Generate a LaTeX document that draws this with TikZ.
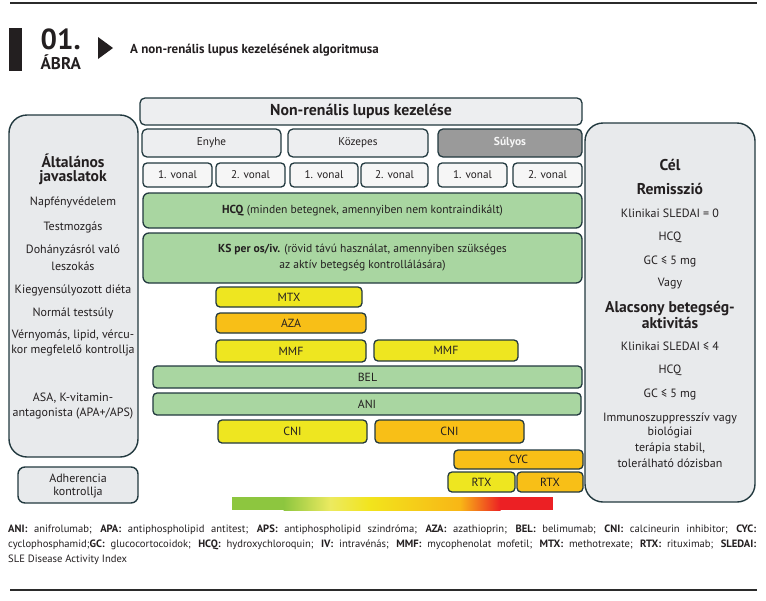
\documentclass[tikz,border=0pt]{standalone}
\usepackage{fontspec}
\setmainfont{PT Sans}
\definecolor{txt}{HTML}{231F20}
\definecolor{bd}{HTML}{22393F}
\definecolor{panel}{HTML}{E8EAEC}
\definecolor{lgrey}{HTML}{EDEEF0}
\definecolor{vgrey}{HTML}{F6F6F6}
\definecolor{dgrey}{HTML}{9A9A9A}
\definecolor{gr}{HTML}{A9D6A1}
\definecolor{ye}{HTML}{EEE620}
\definecolor{orr}{HTML}{F8BF17}
\definecolor{rule}{HTML}{2B2B2B}
\newcommand\bxx[7]{\node[bx,#2,minimum width={(#5-#3)*1pt},minimum height={(#6-#4)*1pt}] (#1) at ({(#3+#5)/2},{(#4+#6)/2}) {#7};}
\begin{document}
\begin{tikzpicture}[x=1pt,y=-1pt,
  every node/.style={inner sep=0pt,text=txt},
  bx/.style={draw=bd,line width=1.3pt,rounded corners=4pt,font=\fontsize{11.8}{14}\selectfont},
  sev/.style={fill=lgrey,rounded corners=5pt,font=\fontsize{11.2}{13}\selectfont},
  von/.style={fill=vgrey,font=\fontsize{11.2}{13}\selectfont},
  grn/.style={fill=gr},
  yel/.style={fill=ye},
  org/.style={fill=orr},
  pnl/.style={draw=bd,line width=1.4pt,fill=panel,rounded corners=18pt},
  ptxt/.style={font=\fontsize{12}{14}\selectfont},
  phead/.style={font=\bfseries\fontsize{15.6}{14.5}\selectfont},
]
\useasboundingbox[fill=white] (0,0) rectangle (766,600);
% header
\draw[line width=1.6pt,rule] (10,3) -- (757,3);
\draw[line width=1.6pt,rule] (10,590) -- (757,590);
\fill[txt] (9,28) rectangle (22,71);
\node[align=left,anchor=south west,font=\bfseries\fontsize{17}{20}\selectfont] (num) at (40.5,70) {{\fontsize{29}{29}\selectfont 01.}\\ÁBRA};
\fill[txt] (98,37) -- (113,48) -- (98,59) -- cycle;
\node[font=\bfseries\fontsize{13}{15}\selectfont,anchor=base west] (ttl) at (130,53) {A non-renális lupus kezelésének algoritmusa};
% panels
\node[pnl,minimum width=129pt,minimum height=342pt] (left) at (73.5,286) {};
\node[pnl,minimum width=170pt,minimum height=379pt] (right) at (670,312.5) {};
\bxx{adh}{fill=panel,rounded corners=7pt,line width=1.4pt}{18}{467}{138}{503}{}
% left panel texts
\node[phead,align=center] (l1) at (73,169.5) {Általános\\javaslatok};
\node[ptxt] (l3) at (73,202) {Napfényvédelem};
\node[ptxt] (l4) at (73,227) {Testmozgás};
\node[ptxt] (l5) at (73,250) {Dohányzásról való};
\node[ptxt] (l6) at (73,266) {leszokás};
\node[ptxt] (l7) at (73,290) {Kiegyensúlyozott diéta};
\node[ptxt] (l8) at (73,313) {Normál testsúly};
\node[ptxt] (l9) at (73,335) {Vérnyomás, lipid, vércu-};
\node[ptxt] (l10) at (73,351) {kor megfelelő kontrollja};
\node[ptxt] (l11) at (73,398) {ASA, K-vitamin-};
\node[ptxt] (l12) at (73,414) {antagonista (APA+/APS)};
\node[ptxt] (a1) at (78,478) {Adherencia};
\node[ptxt] (a2) at (78,493) {kontrollja};
% right panel texts
\node[phead] (r1) at (670,165) {Cél};
\node[phead] (r2) at (670,189) {Remisszió};
\node[ptxt] (r3) at (670,213) {Klinikai SLEDAI = 0};
\node[ptxt] (r4) at (670,237) {HCQ};
\node[ptxt] (r5) at (670,261) {GC ≤ 5 mg};
\node[ptxt] (r6) at (670,284) {Vagy};
\node[phead] (r7) at (670,308.5) {Alacsony betegség-};
\node[phead] (r8) at (670,323) {aktivitás};
\node[ptxt] (r9) at (670,346) {Klinikai SLEDAI ≤ 4};
\node[ptxt] (r10) at (670,370) {HCQ};
\node[ptxt] (r11) at (670,394) {GC ≤ 5 mg};
\node[ptxt] (r12) at (670,418) {Immunoszuppresszív vagy};
\node[ptxt] (r13) at (670,432.5) {biológiai};
\node[ptxt] (r14) at (670,448) {terápia stabil,};
\node[ptxt] (r15) at (670,463) {tolerálható dózisban};
% main column
\bxx{main}{sev,font=\bfseries\fontsize{15.8}{17}\selectfont}{140}{98}{582}{125}{Non-renális lupus kezelése}
\bxx{eny}{sev}{142}{129}{281}{157}{Enyhe}
\bxx{koz}{sev}{288}{129}{428}{157}{Közepes}
\bxx{suly}{sev,fill=dgrey,text=vgrey,font=\bfseries\fontsize{11.5}{13}\selectfont}{438}{129}{582}{157}{Súlyos}
\bxx{e1}{von}{143}{163}{212}{187}{1. vonal}
\bxx{e2}{von}{216}{163}{285}{187}{2. vonal}
\bxx{k1}{von}{290}{163}{358}{187}{1. vonal}
\bxx{k2}{von}{361}{163}{428}{187}{2. vonal}
\bxx{s1}{von}{438}{163}{507}{187}{1. vonal}
\bxx{s2}{von}{513}{163}{582}{187}{2. vonal}
\bxx{hcq}{grn,rounded corners=6pt,font=\fontsize{11.6}{14}\selectfont}{143}{193}{582}{228}{\textbf{HCQ} (minden betegnek, amennyiben nem kontraindikált)}
\bxx{ks}{grn,rounded corners=6pt,align=center,font=\fontsize{11.6}{16}\selectfont}{143}{233}{582}{283}{\textbf{KS per os/iv.} (rövid távú használat, amennyiben szükséges\\az aktív betegség kontrollálására)}
\bxx{mtx}{yel}{216}{287}{362}{307}{MTX}
\bxx{aza}{org}{216}{313}{366}{333}{AZA}
\bxx{mmf1}{yel}{216}{340}{366}{362}{MMF}
\bxx{mmf2}{yel}{374}{340}{518}{361}{MMF}
\bxx{bel}{grn}{153}{366}{582}{388}{BEL}
\bxx{ani}{grn}{153}{393}{581}{415}{ANI}
\bxx{cni1}{yel}{218}{420}{367}{443}{CNI}
\bxx{cni2}{org}{375}{420}{524}{443}{CNI}
\bxx{cyc}{org}{454}{450}{583}{469}{CYC}
\bxx{rtx1}{yel}{448}{472}{515}{492}{RTX}
\bxx{rtx2}{org}{517}{472}{583}{492}{RTX}
% gradient bar
\fill[color={rgb,255:red,141;green,198;blue,63}] (232,497) rectangle (284,510);
\shade[left color={rgb,255:red,141;green,198;blue,63},right color={rgb,255:red,236;green,234;blue,96}] (283.5,497) rectangle (330.5,510);
\shade[left color={rgb,255:red,236;green,234;blue,96},right color={rgb,255:red,242;green,228;blue,28}] (330,497) rectangle (370.5,510);
\shade[left color={rgb,255:red,242;green,228;blue,28},right color={rgb,255:red,248;green,182;blue,22}] (370,497) rectangle (460.5,510);
\shade[left color={rgb,255:red,248;green,182;blue,22},right color={rgb,255:red,236;green,32;blue,36}] (460,497) rectangle (500.5,510);
\fill[color={rgb,255:red,236;green,32;blue,36}] (500,497) rectangle (553,510);
% legend
\node[anchor=north west,text width=748pt,align=justify,font=\fontsize{10.6}{15}\selectfont] (leg) at (8,525) {\textbf{ANI:} anifrolumab; \textbf{APA:} antiphospholipid antitest; \textbf{APS:} antiphospholipid szindróma; \textbf{AZA:} azathioprin; \textbf{BEL:} belimumab; \textbf{CNI:} calcineurin inhibitor; \textbf{CYC:}\linebreak cyclophosphamid;\textbf{GC:} glucocortocoidok; \textbf{HCQ:} hydroxychloroquin; \textbf{IV:} intravénás; \textbf{MMF:} mycophenolat mofetil; \textbf{MTX:} methotrexate; \textbf{RTX:} rituximab; \textbf{SLEDAI:}\linebreak SLE Disease Activity Index};
\end{tikzpicture}
\end{document}
